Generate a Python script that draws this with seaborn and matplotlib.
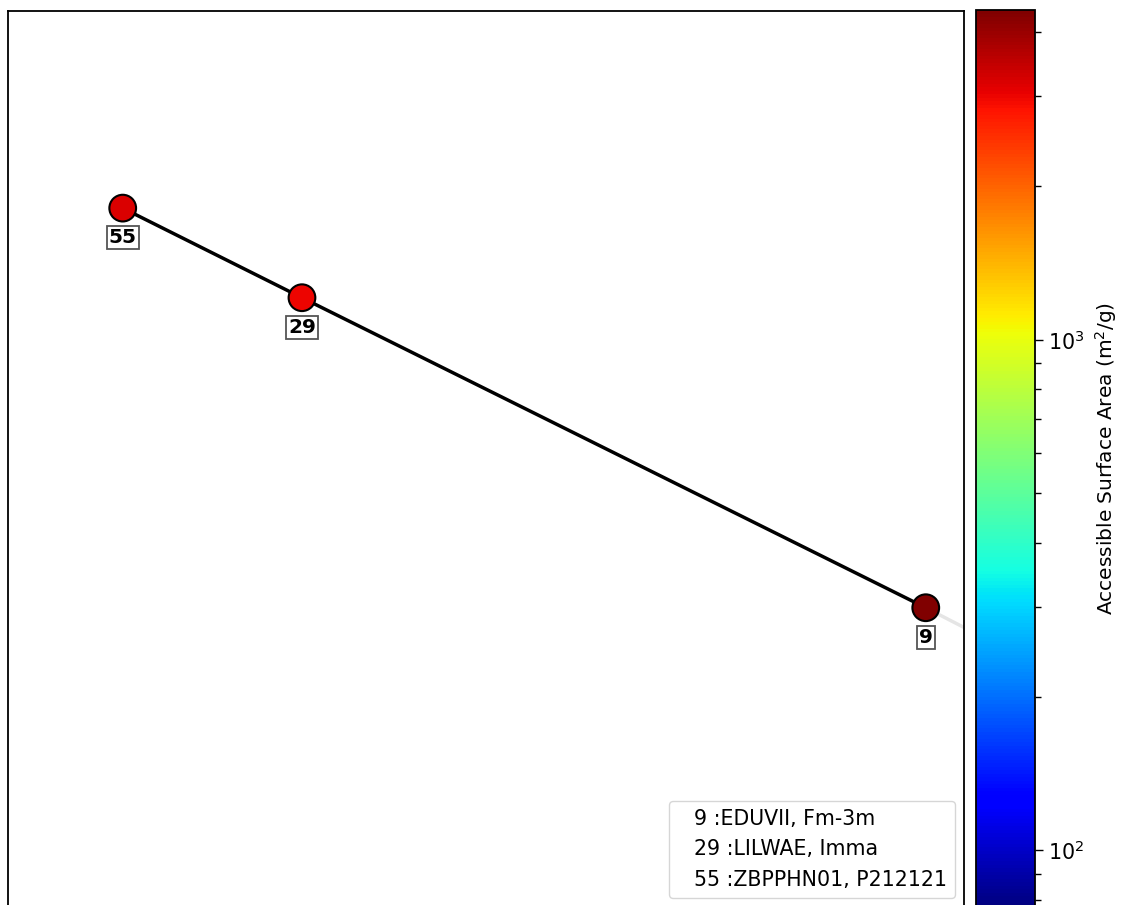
import numpy as np
import pandas as pd
import matplotlib
matplotlib.use("Agg")
import matplotlib.pyplot as plt
import seaborn as sns
from matplotlib.colors import LogNorm
from matplotlib.lines import Line2D

# ---- data (axes carry no tick labels) ----
ids = [55, 29, 9]
refcodes = ["ZBPPHN01", "LILWAE", "EDUVII"]
spacegroups = ["P212121", "Imma", "Fm-3m"]
x_values = [0.120, 0.3075, 0.960]
y_values = [0.780, 0.680, 0.334]
surface_area = [3190, 3010, 4425]
# continuation of the front to a point outside the view
tail_x = [0.960, 1.10]
tail_y = [0.334, 0.257]
cbar_min, cbar_max = 77.4, 4425

df = pd.DataFrame({"id": ids, "x": x_values, "y": y_values, "area": surface_area})

sns.set_theme(style="white")
plt.rcParams["font.family"] = ["DejaVu Sans"]
plt.rcParams.update({"axes.edgecolor": "black", "text.color": "black",
                     "axes.labelcolor": "black", "xtick.color": "black",
                     "ytick.color": "black"})

fig = plt.figure(figsize=(11.23, 9.05), dpi=100)
ax = fig.add_axes([8/1123, 1 - 907/905, 956/1123, 896/905])
cax = fig.add_axes([976/1123, 1 - 907/905, 59/1123, 897/905])

norm = LogNorm(vmin=cbar_min, vmax=cbar_max)
jet = matplotlib.colormaps["jet"]

ax.plot(tail_x, tail_y, color="black", alpha=0.1, lw=2.5, zorder=1)
sns.lineplot(data=df, x="x", y="y", sort=False, color="black", lw=2.5, ax=ax, zorder=2)
sns.scatterplot(data=df, x="x", y="y", hue="area", palette=jet, hue_norm=norm,
                s=370, edgecolor="black", linewidth=1.5, legend=False, ax=ax, zorder=3)

for i, xv, yv in zip(ids, x_values, y_values):
    ax.annotate(str(i), (xv, yv), xytext=(0, -21.5), textcoords="offset points",
                ha="center", va="center", fontsize=14.5, fontweight="bold", color="black",
                bbox=dict(boxstyle="square,pad=0.1", facecolor="white", edgecolor="#555555", lw=1.3),
                zorder=4)

ax.set_xlim(0, 1)
ax.set_ylim(0, 1)
ax.set_xticks([])
ax.set_yticks([])
ax.set_xlabel("")
ax.set_ylabel("")
for sp in ax.spines.values():
    sp.set_color("black")
    sp.set_linewidth(1.3)

handles = [Line2D([], [], linestyle="none", marker=None) for _ in ids]
order = sorted(range(len(ids)), key=lambda k: ids[k])
labels = [f"{ids[k]} :{refcodes[k]}, {spacegroups[k]}" for k in order]
ax.legend([handles[k] for k in order], labels, loc="lower right", handlelength=0,
          handletextpad=0.8, fontsize=14.8, frameon=True, framealpha=0.8,
          edgecolor="#cccccc", labelspacing=0.5, borderaxespad=0.45)

sm = plt.cm.ScalarMappable(norm=norm, cmap=jet)
cb = fig.colorbar(sm, cax=cax)
cb.set_label("Accessible Surface Area (m$^2$/g)", fontsize=14.5, labelpad=6)
cax.tick_params(which="major", length=6, width=1, labelsize=14.8, right=True, colors="black")
cax.tick_params(which="minor", length=4, width=1, right=True, colors="black")
for sp in cax.spines.values():
    sp.set_color("black")
    sp.set_linewidth(1.3)

fig.savefig("out.png", dpi=100)
